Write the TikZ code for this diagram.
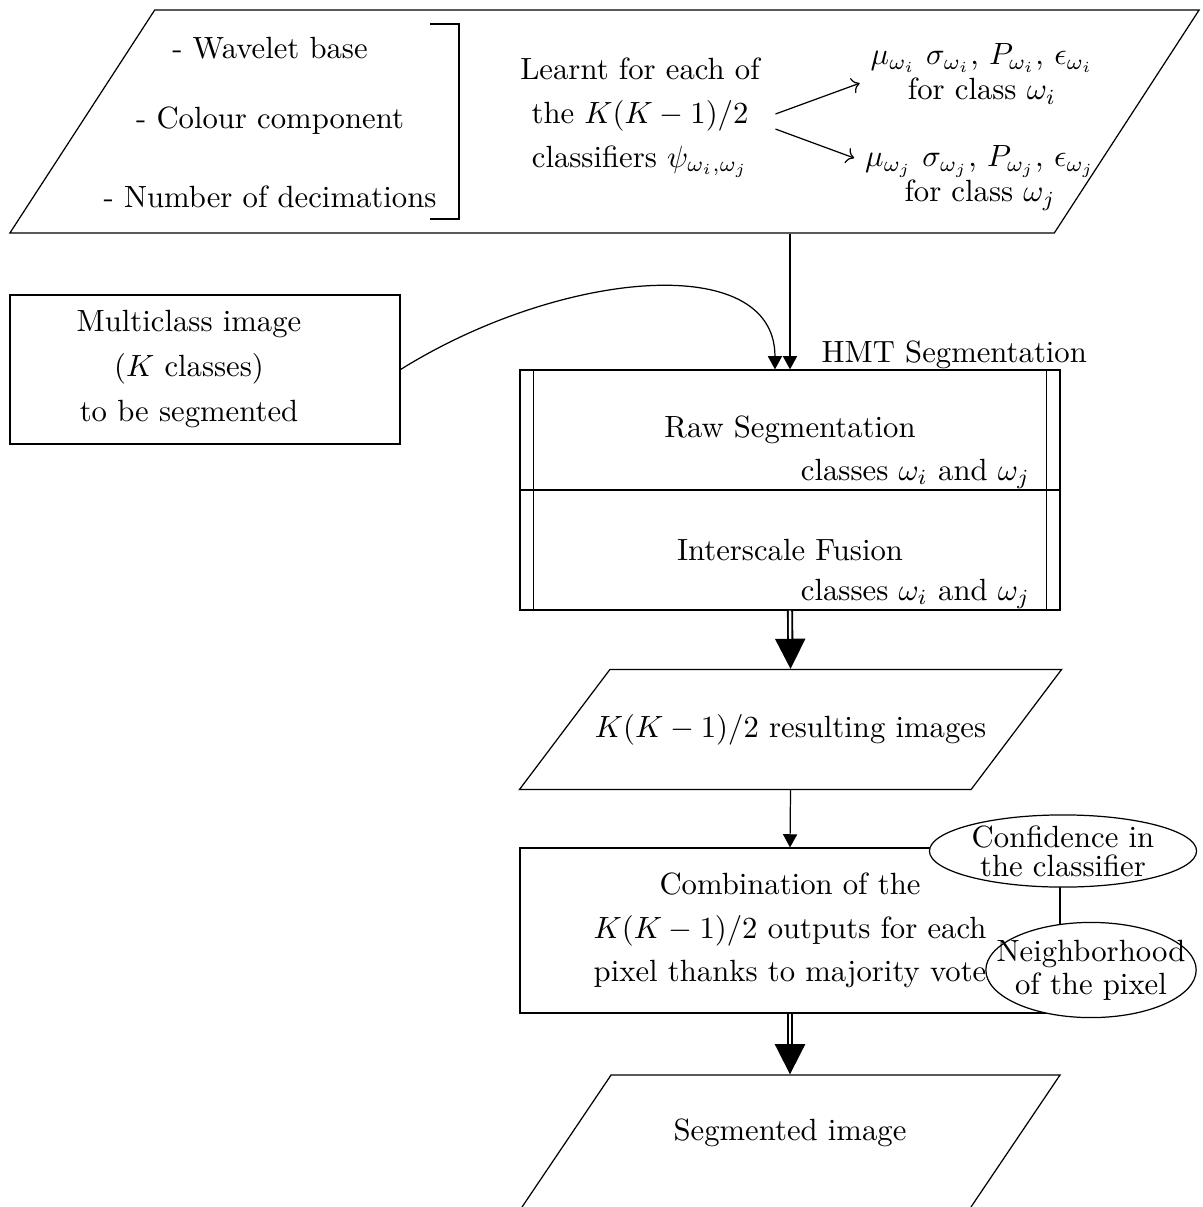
\documentclass[tikz,border=0pt]{standalone}
\usepackage{tikz}
\usetikzlibrary{calc,shapes,arrows,arrows.meta,positioning}

\tikzset{
  procbox/.style={draw, rectangle, minimum width=175.9pt, align=center},
  iobox/.style={draw, trapezium, trapezium stretches body=true, inner sep=0pt, minimum width=175.9pt},
  note/.style={draw, ellipse, fill=white, align=center},
  link/.style={-{Triangle[width=4.6pt,length=4.3pt]}},
  biglink/.style={double, line width=0.6pt, double distance=0.8pt, -{Triangle[width=9.8pt,length=9.8pt]}}
}

\begin{document}
\begin{tikzpicture}[x=0.3257pt,y=-0.3257pt]
\useasboundingbox (0,0) rectangle (1202,1207);
\clip (0,0) rectangle (1202,1207);

% learnt parameters
\node[iobox, trapezium left angle=57, trapezium right angle=123,
      minimum width=387.3pt, text height=36.3pt, text depth=36.3pt] (param) at (604.5,121.5) {\phantom{M}};
\foreach \i / \y / \element in {1/48/{- Wavelet base},2/121/{- Colour component},3/197/{- Number of decimations}}
  \node (l\i) at (270,\y) {\element};
\draw (430,24) -- (459,24) -- (459,219) -- (430,219);

\node[align=center] (learn) at (640,118)
  {Learnt for each of\\[2.2pt] the $K(K-1)/2$\\[2.2pt] classifiers $\psi_{\omega_i,\omega_j}$};
\node[align=center] (mui) at (982,74)
  {$\mu_{\omega_i}$ $\sigma_{\omega_i}$, $P_{\omega_i}$, $\epsilon_{\omega_i}$\\[-0.5pt] for class $\omega_i$};
\node[align=center] (muj) at (980,178)
  {$\mu_{\omega_j}$ $\sigma_{\omega_j}$, $P_{\omega_j}$, $\epsilon_{\omega_j}$\\[-0.5pt] for class $\omega_j$};
\draw[->] ([xshift=1.6pt,yshift=1.3pt]learn.east) -- ([yshift=-3pt]mui.west);
\draw[->] ([xshift=1.6pt,yshift=-3.6pt]learn.east) -- ([yshift=6.5pt]muj.west);

% input image
\node[draw, minimum width=127pt, minimum height=48.5pt] (multi) at (205,369.5) {};
\node[align=center] (multitxt) at (189,369)
  {Multiclass image\\[2.6pt] ($K$ classes)\\[2.6pt] to be segmented};

% HMT segmentation
\node[procbox, minimum height=39.1pt] (raw) at (790,430) {Raw Segmentation};
\node[procbox, minimum height=39.1pt] (fus) at (790,550) {Interscale Fusion};
\draw ([xshift=4.6pt]raw.north west) -- ([xshift=4.6pt]fus.south west);
\draw ([xshift=-4.6pt]raw.north east) -- ([xshift=-4.6pt]fus.south east);
\node[anchor=south east, inner sep=1pt] (rawcl) at ([xshift=-8.8pt,yshift=-0.6pt]raw.south east)
  {classes $\omega_i$ and $\omega_j$};
\node[anchor=south east, inner sep=1pt] (fuscl) at ([xshift=-8.8pt,yshift=-0.6pt]fus.south east)
  {classes $\omega_i$ and $\omega_j$};
\node[anchor=south west, inner sep=1pt] (hmt) at ([xshift=9.1pt,yshift=-1pt]raw.north) {HMT Segmentation};

\draw[link] (raw.north |- param.south) -- (raw.north);
\draw[link] (multi.east) .. controls (560,270) and (775,250) .. ([xshift=-4.9pt]raw.north);

% results
\node[iobox, trapezium left angle=53, trapezium right angle=127, inner xsep=-4.9pt,
      text height=22.05pt, text depth=17.05pt] (res) at (790.5,729.5) {$K(K-1)/2$ resulting images};
\draw[biglink] (fus.south) -- (res.center |- res.north);

\node[procbox, minimum height=53.7pt] (comb) at (790,930.5)
  {Combination of the\\[2.2pt] $K(K-1)/2$ outputs for each\\[2.2pt] pixel thanks to majority vote};
\draw[link] (res.center |- res.south) -- (comb.north);
\node[note, inner sep=0pt, minimum width=87pt, minimum height=23.5pt] (conf) at (1063,851)
  {Confidence in\\[-2.6pt] the classifier};
\node[note, inner xsep=-6.5pt, inner ysep=0pt, minimum height=31pt] (neigh) at (1091,970)
  {Neighborhood\\[-1.3pt] of the pixel};

\node[iobox, trapezium left angle=56, trapezium right angle=124,
      text height=21.25pt, text depth=22.75pt] (seg) at (790,1142.5) {Segmented image};
\draw[biglink] (comb.south) -- (seg.center |- seg.north);

\end{tikzpicture}
\end{document}
